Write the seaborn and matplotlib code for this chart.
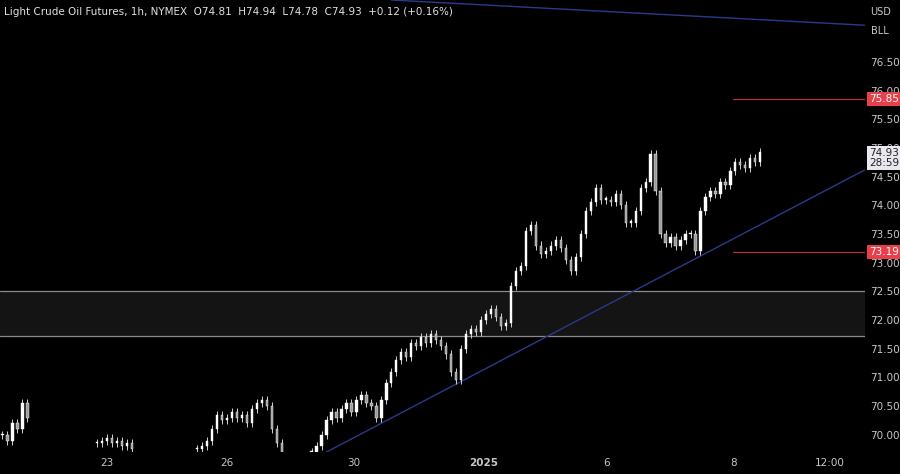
import numpy as np
import matplotlib
matplotlib.use("Agg")
import matplotlib.pyplot as plt
import seaborn as sns

N = np.nan
closes = [70.0, 69.9, 70.2, 70.1, 70.55, 70.3] + [N]*13 + \
    [69.85, 69.9, 69.95, 69.85, 69.9, 69.8, 69.85, 69.75, N] + [N]*11 + \
    [69.75, 69.8, 69.9, 70.1, 70.35, 70.25, 70.3, 70.4, 70.3, 70.35, 70.2, 70.45, 70.55, 70.6, 70.5, 70.1, 69.85, 69.6] + [N]*5 + \
    [69.7, 69.8, 70.0, 70.25, 70.4, 70.3, 70.45, 70.55, 70.4, 70.6, 70.7, 70.55, 70.5, 70.3, 70.6, 70.9, 71.1, 71.3,
     71.45, 71.35, 71.6, 71.55, 71.7, 71.6, 71.75, 71.65, 71.55, 71.4, 71.1, 70.95, 71.5, 71.75, 71.85, 71.8, 72.0, 72.1,
     72.2, 72.05, 71.9, 71.95, 72.6, 72.85, 72.95, 73.55, 73.65, 73.3, 73.15, 73.2, 73.3, 73.4, 73.25, 73.05, 72.85, 73.1,
     73.5, 73.9, 74.05, 74.3, 74.1, 74.1, 74.05, 74.2, 74.0, 73.7, 73.7, 73.9, 74.3, 74.4, 74.9, 74.25, 73.5, 73.35, 73.45,
     73.3, 73.4, 73.5, 73.5, 73.2, 73.9, 74.15, 74.25, 74.2, 74.4, 74.35, 74.6, 74.75, 74.7, 74.65, 74.82, 74.75, 74.93]

tick_pos = [21, 45, 70.4, 96.6, 121.2, 146.6, 166]
tick_labels = ["23", "26", "30", "2025", "6", "8", "12:00"]
y_ticks = [70.0, 70.5, 71.0, 71.5, 72.0, 72.5, 73.0, 73.5, 74.0, 74.5, 75.0, 75.5, 76.0, 76.5]
zone = (71.73, 72.51)
levels = [75.85, 73.19]
trend_low = [(65, 69.7), (173, 74.62)]
trend_high = [(78, 77.58), (173, 77.14)]

sns.set_style("dark", {"axes.facecolor": "black", "figure.facecolor": "black"})
fig = plt.figure(figsize=(9, 4.74), dpi=100)
ax = fig.add_axes([0, 22/474, 865/900, 452/474])
ax.set_facecolor("black")

c = np.array(closes, dtype=float)
o = np.concatenate([[c[0]], c[:-1]])
o = np.where(np.isnan(o), c, o)
idx = np.arange(len(c))
hi = np.fmax(o, c) + 0.07
lo = np.fmin(o, c) - 0.07
ok = ~np.isnan(c)
ax.vlines(idx[ok], lo[ok], hi[ok], color="#d0d0d0", lw=0.7, zorder=3)
body_lo = np.fmin(o, c)
body_h = np.maximum(np.abs(c - o), 0.02)
up = ok & (c >= o)
dn = ok & (c < o)
ax.bar(idx[up], body_h[up], bottom=body_lo[up], width=0.45, color="white", edgecolor="white", lw=0.3, zorder=4)
ax.bar(idx[dn], body_h[dn], bottom=body_lo[dn], width=0.45, color="#9a9a9a", edgecolor="white", lw=0.3, zorder=4)

ax.axhspan(zone[0], zone[1], color="#141414", zorder=1)
for z in zone:
    ax.axhline(z, color="#8a8a8a", lw=0.9, zorder=2)
for lv in levels:
    ax.plot([146.6, 173], [lv, lv], color="#b03030", lw=0.9, zorder=2)
ax.plot(*zip(*trend_low), color="#2a3a8a", lw=1.0, zorder=2)
ax.plot(*zip(*trend_high), color="#2a3a8a", lw=1.0, zorder=2)

ax.set_xlim(-0.5, 173)
ax.set_ylim(69.7, 77.58)
ax.set_xticks(tick_pos)
ax.set_xticklabels(tick_labels)
ax.yaxis.tick_right()
ax.set_yticks(y_ticks)
ax.set_yticklabels([f"{v:.2f}" for v in y_ticks])
ax.tick_params(colors="#c8c8c8", labelsize=7.5, length=0, pad=4)
for lab in ax.get_xticklabels():
    if lab.get_text() == "2025":
        lab.set_fontweight("bold")
ax.grid(False)
for s in ax.spines.values():
    s.set_visible(False)

bb = dict(boxstyle="square,pad=0.2", lw=0)
for lv in levels:
    ax.text(1.005, lv, f"{lv:.2f}", transform=ax.get_yaxis_transform(), color="white", fontsize=7.5,
            va="center", ha="left", bbox=dict(bb, fc="#e8404a"), zorder=6)
ax.text(1.005, 74.82, "74.93\n28:59", transform=ax.get_yaxis_transform(), color="#222", fontsize=7.5,
        va="center", ha="left", linespacing=1.0, bbox=dict(bb, fc="#e8e8ee"), zorder=6)
fig.text(0.978, 0.985, "USD\n\nBLL", color="#c8c8c8", fontsize=7, va="top", ha="center", linespacing=0.9)
fig.text(0.005, 0.985, "Light Crude Oil Futures, 1h, NYMEX  O74.81  H74.94  L74.78  C74.93  +0.12 (+0.16%)",
         color="#e0e0e0", fontsize=7.5, va="top", ha="left")
fig.savefig("out.png", dpi=100, facecolor="black")
